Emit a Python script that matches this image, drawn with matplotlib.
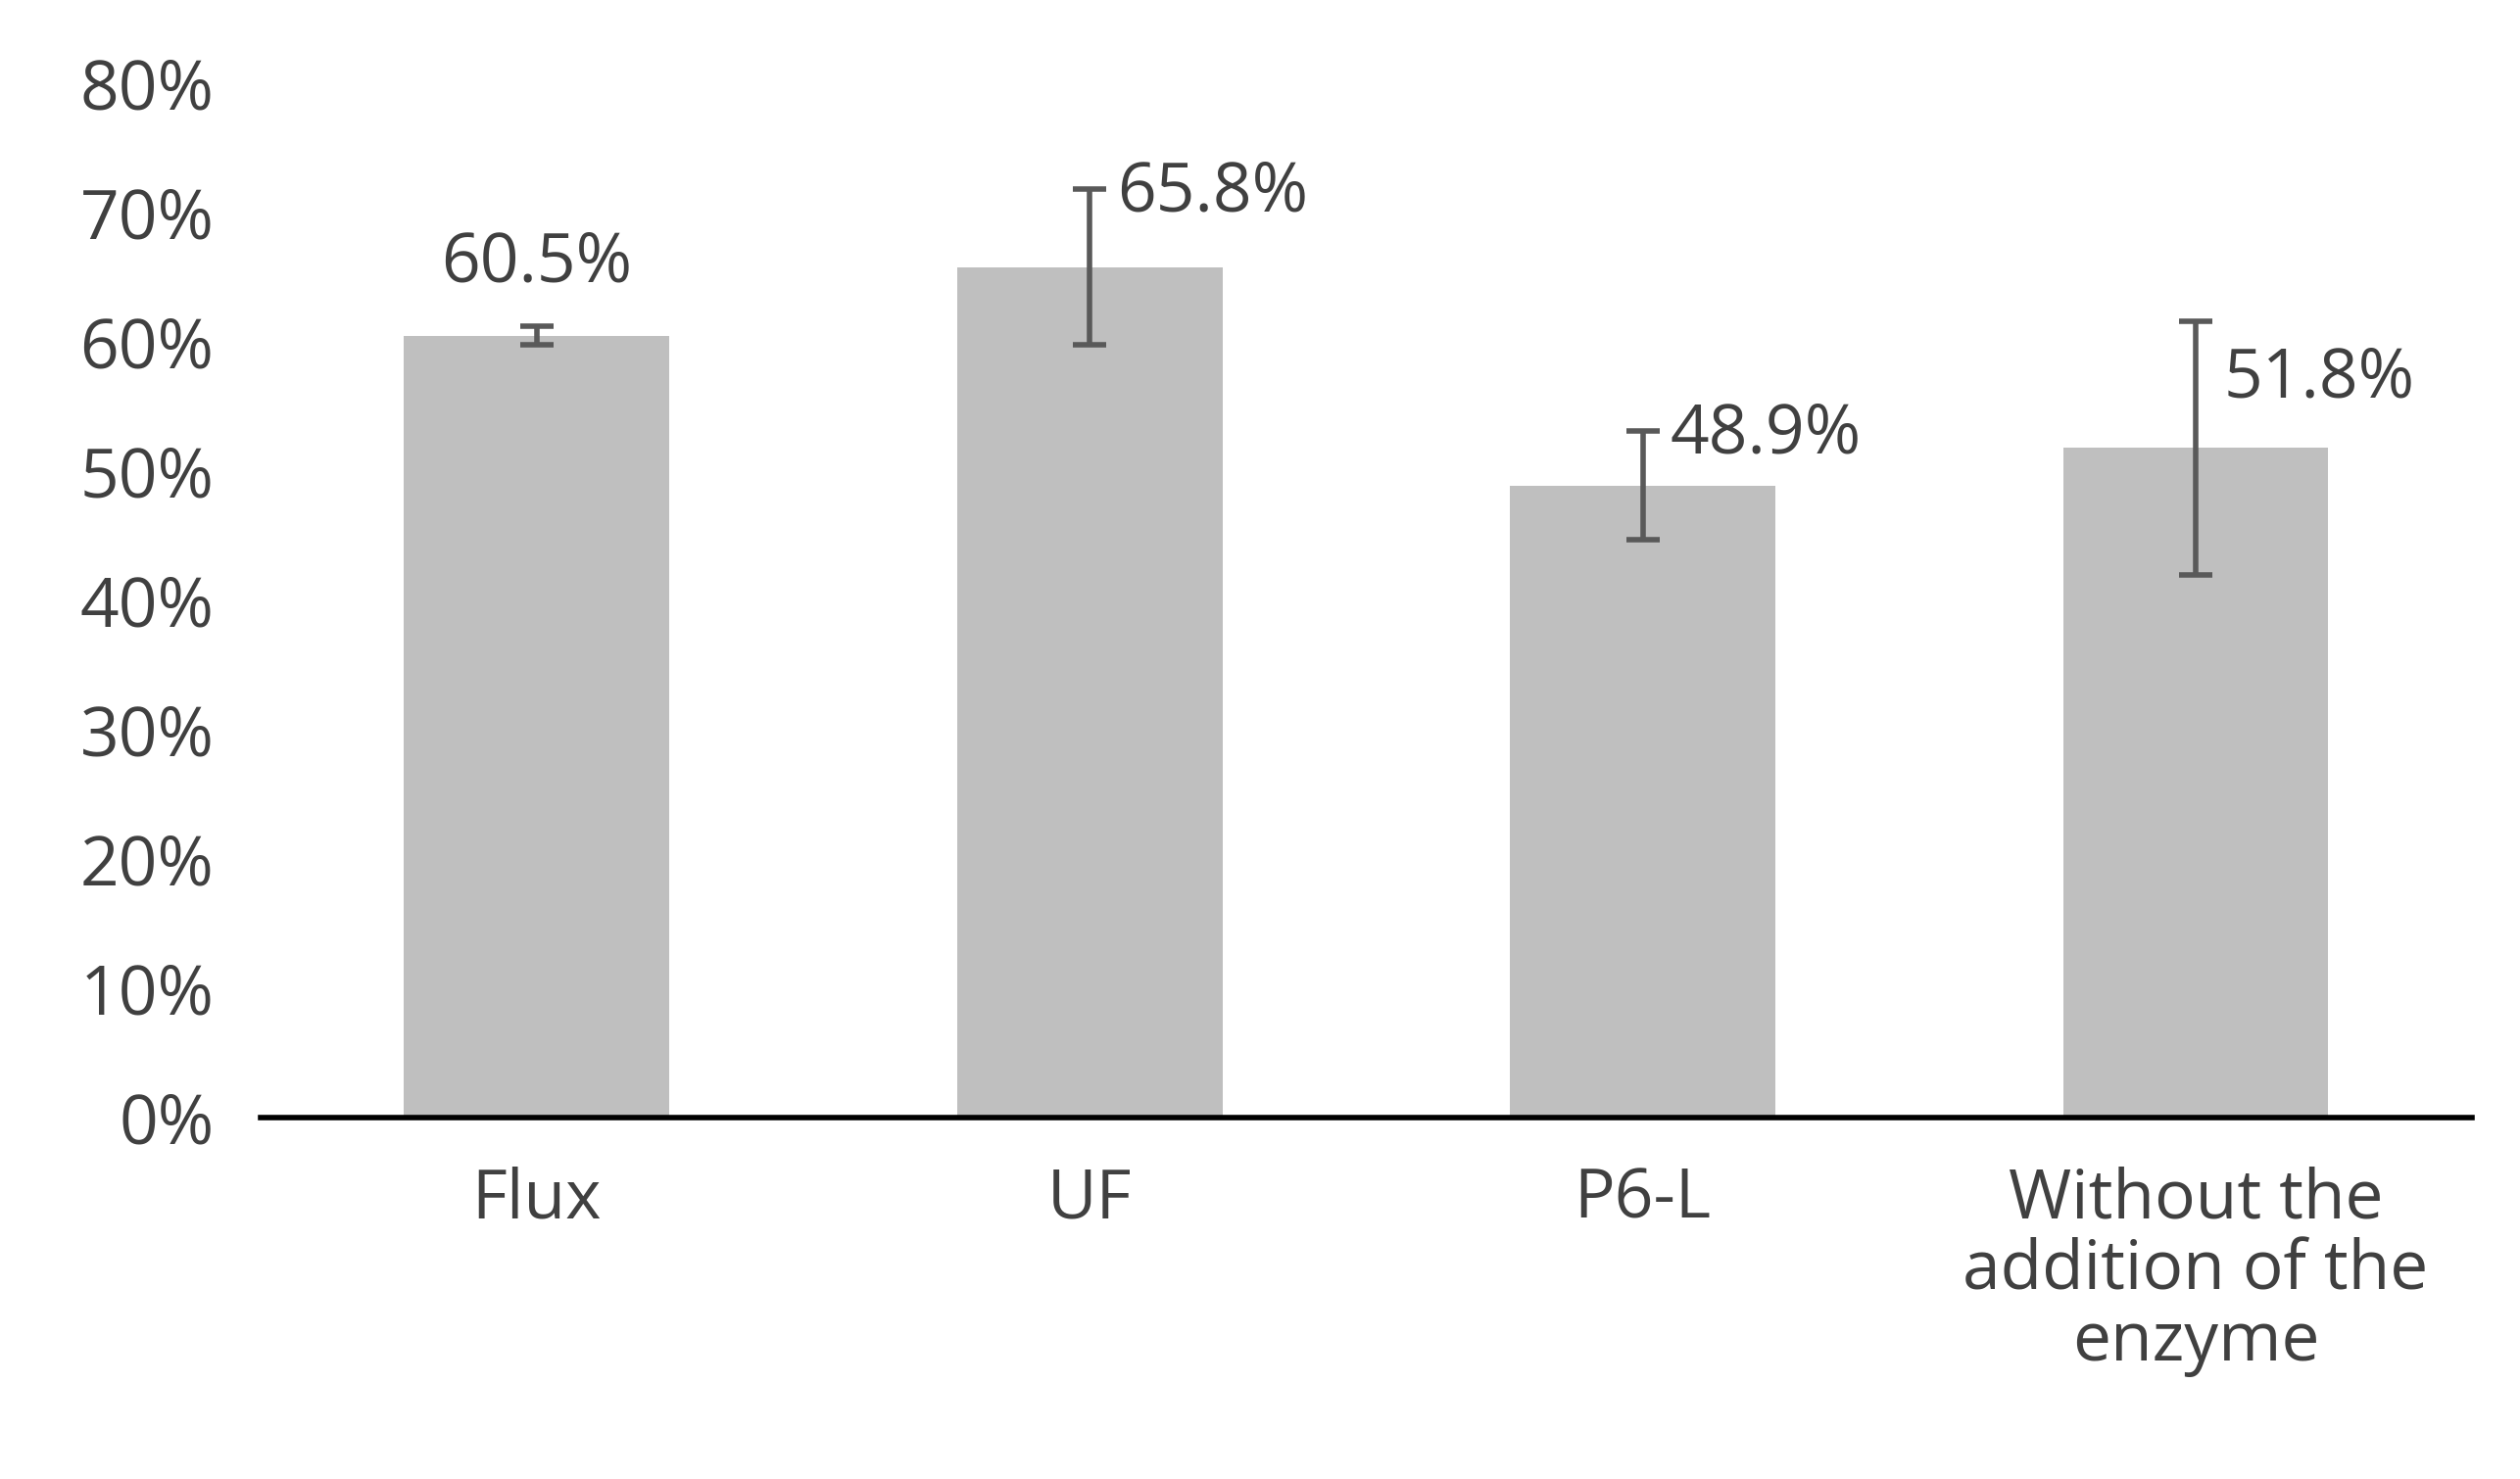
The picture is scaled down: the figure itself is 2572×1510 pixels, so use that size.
import matplotlib.pyplot as plt

categories = ['Flux', 'UF', 'P6-L', 'Without the\naddition of the\nenzyme']
values = [0.605, 0.658, 0.489, 0.518]
errors = [0.007, 0.060, 0.042, 0.098]
value_labels = ['60.5%', '65.8%', '48.9%', '51.8%']

plt.rcParams['font.family'] = ['Open Sans', 'DejaVu Sans']
text_col = '#404040'
fs = 50

fig = plt.figure(figsize=(25.72, 15.10), dpi=100)
ax = fig.add_axes([0.1033, 0.2446, 0.8777, 0.6989])

x = range(len(categories))
ax.bar(x, values, width=0.48, color='#BFBFBF', zorder=2)
ax.errorbar(x, values, yerr=errors, fmt='none', ecolor='#595959',
            elinewidth=4, capsize=12, capthick=4, zorder=3)

for i, (v, e, lab) in enumerate(zip(values, errors, value_labels)):
    if i == 0:
        ax.text(i, v + e + 0.022, lab, ha='center', va='bottom',
                fontsize=fs, color=text_col)
    elif i == 3:
        ax.text(i + 0.05, v + e - 0.045, lab, ha='left', va='center',
                fontsize=fs, color=text_col)
    else:
        ax.text(i + 0.05, v + e - 0.003, lab, ha='left', va='center',
                fontsize=fs, color=text_col)

ax.set_xlim(-0.5, 3.5)
ax.set_ylim(0, 0.8)
ax.set_yticks([i / 10 for i in range(9)])
ax.set_yticklabels([f'{i * 10}%' for i in range(9)])
ax.set_xticks(list(x))
ax.set_xticklabels(categories, linespacing=1.05)
ax.tick_params(length=0, labelsize=fs, colors=text_col)
ax.tick_params(axis='x', pad=36)
ax.tick_params(axis='y', pad=34)
for s in ['top', 'right', 'left']:
    ax.spines[s].set_visible(False)
ax.spines['bottom'].set_linewidth(4)
ax.spines['bottom'].set_color('black')

fig.savefig('out.png', dpi=100)
